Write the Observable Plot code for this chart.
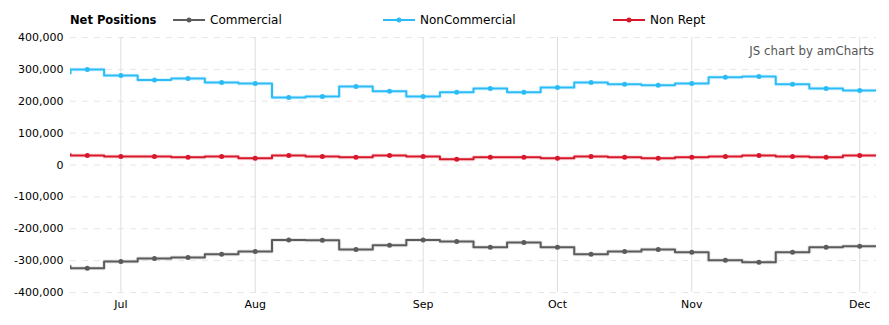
<!DOCTYPE html>
<html>
<head>
<meta charset="utf-8">
<script src="https://cdn.jsdelivr.net/npm/d3@7"></script>
<script src="https://cdn.jsdelivr.net/npm/@observablehq/plot@0.6"></script>
<style>
  body { margin: 0; background: #fff; font-family: "DejaVu Sans", Verdana, sans-serif; }
  #wrap { width: 889px; height: 325px; position: relative; }
  #legend { position: relative; height: 28px; font-size: 12px; color: #000; }
  .ttl { position: absolute; left: 70px; top: 13px; font-weight: bold; font-size: 11.5px; }
  .item { position: absolute; top: 13px; display: flex; align-items: center; font-size: 12px; }
  .item svg { margin-right: 5px; }
  #credit { position: absolute; right: 15px; top: 44px; font-size: 11.8px; color: #555; }
</style>
</head>
<body>
<div id="wrap">
  <div id="legend"></div>
  <div id="chart"></div>
  <div id="credit">JS chart by amCharts</div>
</div>
<script>
// Weekly report dates (Tuesdays); first entry is the week before the visible window
const dates = ["2016-06-21","2016-06-28","2016-07-05","2016-07-12","2016-07-19","2016-07-26",
  "2016-08-02","2016-08-09","2016-08-16","2016-08-23","2016-08-30","2016-09-06","2016-09-13",
  "2016-09-20","2016-09-27","2016-10-04","2016-10-11","2016-10-18","2016-10-25","2016-11-01",
  "2016-11-08","2016-11-15","2016-11-22","2016-11-29","2016-12-06"];
const commercial = [-318000,-324000,-303000,-293000,-290000,-280000,-271000,-235000,-236000,-265000,
  -252000,-235000,-240000,-258000,-243000,-258000,-280000,-271000,-265000,-274000,-299000,-305000,
  -274000,-258000,-255000];
const nonCommercial = [288000,300000,281000,267000,271000,259000,256000,212000,215000,246000,231000,
  215000,228000,240000,228000,243000,259000,253000,250000,256000,275000,278000,253000,240000,234000];
const nonRept = [34000,30000,27000,27000,24000,27000,21000,30000,27000,24000,30000,27000,18000,
  24000,24000,21000,27000,24000,21000,24000,27000,30000,27000,24000,30000];
const seriesNames = ["Commercial","NonCommercial","Non Rept"];
const seriesColors = ["#5b5b5b","#2bbcf7","#d9172a"];
const monthTicks = ["2016-07-05","2016-08-02","2016-09-06","2016-10-04","2016-11-01","2016-12-06"];
const yTicks = [-400000,-300000,-200000,-100000,0,100000,200000,300000,400000];
const yTickLabels = ["-400,000","-300,000","-200,000","-100,000","0","100,000","200,000","300,000","400,000"];

const parse = d3.utcParse("%Y-%m-%d");
const D = dates.map(parse);
const halfWeek = 3.5 * 24 * 3600 * 1000;
const seriesValues = [commercial, nonCommercial, nonRept];

const points = [];
seriesValues.forEach((vals, s) => vals.forEach((v, i) => points.push({series: seriesNames[s], date: D[i], value: v})));
// step vertices: each value spans its weekly cell
const steps = [];
seriesValues.forEach((vals, s) => vals.forEach((v, i) => {
  steps.push({series: seriesNames[s], date: new Date(+D[i] - halfWeek), value: v});
  steps.push({series: seriesNames[s], date: new Date(+D[i] + halfWeek), value: v});
}));

const xDomain = [new Date(+D[1] - halfWeek), new Date(+D[D.length - 1] + halfWeek)];
const color = {domain: seriesNames, range: seriesColors};

const chart = Plot.plot({
  width: 889, height: 297,
  marginLeft: 70, marginRight: 13, marginTop: 9, marginBottom: 33,
  style: {fontFamily: "DejaVu Sans, Verdana, sans-serif", fontSize: "11px", color: "#000", background: "#fff"},
  x: {type: "utc", domain: xDomain, ticks: monthTicks.map(parse), tickFormat: d3.utcFormat("%b"), tickSize: 0, tickPadding: 8, label: null},
  y: {domain: [-400000, 400000], ticks: yTicks, tickFormat: (d) => yTickLabels[yTicks.indexOf(d)], tickSize: 0, tickPadding: 7, label: null},
  color,
  marks: [
    Plot.ruleY(yTicks, {stroke: "#e6e6e6", strokeDasharray: "6,6", strokeWidth: 1}),
    Plot.ruleX(monthTicks.map(parse), {stroke: "#dedede", strokeWidth: 1}),
    Plot.line(steps, {x: "date", y: "value", z: "series", stroke: "series", strokeWidth: 4, strokeOpacity: 0.15, clip: true}),
    Plot.line(steps, {x: "date", y: "value", z: "series", stroke: "series", strokeWidth: 2, clip: true}),
    Plot.dot(points, {x: "date", y: "value", fill: "series", r: 2.5, clip: true}),
    Plot.axisX({ticks: monthTicks.map(parse), tickFormat: d3.utcFormat("%b"), tickSize: 0, tickPadding: 8}),
    Plot.axisY({ticks: yTicks, tickFormat: (d) => yTickLabels[yTicks.indexOf(d)], tickSize: 0, tickPadding: 7})
  ]
});
document.getElementById("chart").appendChild(chart);

// legend
const legend = document.getElementById("legend");
const ttl = document.createElement("div");
ttl.className = "ttl";
ttl.textContent = "Net Positions";
legend.appendChild(ttl);
const lefts = [173, 383, 613];
seriesNames.forEach((name, i) => {
  const it = document.createElement("div");
  it.className = "item";
  it.style.left = lefts[i] + "px";
  it.style.top = "13px";
  it.innerHTML = `<svg width="32" height="10"><line x1="0" y1="5" x2="32" y2="5" stroke="${seriesColors[i]}" stroke-width="2"/><circle cx="16" cy="5" r="2.5" fill="${seriesColors[i]}"/></svg><span>${name}</span>`;
  legend.appendChild(it);
});
</script>
</body>
</html>
